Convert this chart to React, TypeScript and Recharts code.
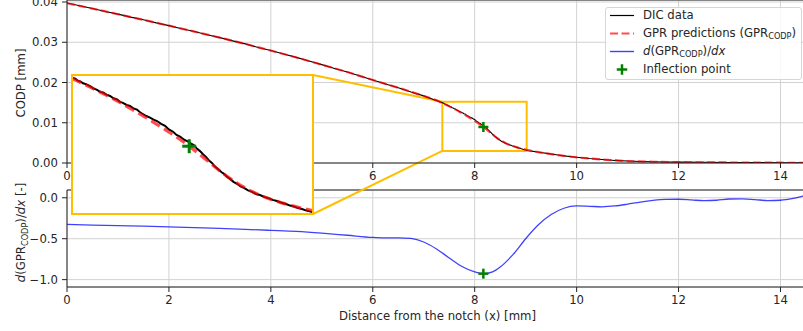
import React from 'react';
import {
  ComposedChart,
  Line,
  Scatter,
  XAxis,
  YAxis,
  CartesianGrid,
  ReferenceLine,
  ReferenceArea,
} from 'recharts';

// Measured crack opening (DIC), [distance from notch mm, CODP mm]
const DIC_PROFILE: [number, number][] = [
  [0, 0.03975], [0.25, 0.03905], [0.5, 0.03838], [0.75, 0.03764], [1, 0.03699],
  [1.25, 0.03624], [1.5, 0.03558], [1.75, 0.03482], [2, 0.03414], [2.25, 0.03336],
  [2.5, 0.03266], [2.75, 0.03188], [3, 0.03115], [3.25, 0.03034], [3.5, 0.0296],
  [3.75, 0.02872], [4, 0.02794], [4.25, 0.02706], [4.5, 0.02624], [4.75, 0.02532],
  [5, 0.02444], [5.25, 0.0235], [5.5, 0.02262], [5.75, 0.0216], [6, 0.02064],
  [6.25, 0.01964], [6.5, 0.01872], [6.75, 0.01766], [7, 0.01668], [7.15, 0.01598],
  [7.3, 0.0153], [7.335, 0.01512], [7.372, 0.01494], [7.39, 0.01486], [7.405, 0.0147],
  [7.425, 0.01462], [7.441, 0.01447], [7.465, 0.01438], [7.489, 0.01423], [7.512, 0.01403],
  [7.537, 0.0139], [7.558, 0.01372], [7.578, 0.01366], [7.602, 0.01347], [7.626, 0.01336],
  [7.65, 0.01316], [7.674, 0.01305], [7.695, 0.01284], [7.715, 0.01276], [7.74, 0.01257],
  [7.763, 0.01248], [7.788, 0.01226], [7.811, 0.01217], [7.83, 0.01195], [7.846, 0.01182],
  [7.875, 0.0116], [7.901, 0.01146], [7.925, 0.01128], [7.949, 0.01116], [7.977, 0.01092],
  [8.004, 0.01074], [8.03, 0.01042], [8.059, 0.01022], [8.083, 0.00994], [8.107, 0.0098],
  [8.135, 0.00952], [8.162, 0.00936], [8.183, 0.00918], [8.203, 0.00903], [8.224, 0.00872],
  [8.244, 0.00852], [8.265, 0.00824], [8.285, 0.008], [8.306, 0.0077], [8.326, 0.00748],
  [8.347, 0.00716], [8.368, 0.00695], [8.39, 0.00668], [8.409, 0.00652], [8.43, 0.00626],
  [8.45, 0.00608], [8.474, 0.00582], [8.498, 0.00565], [8.522, 0.00542], [8.546, 0.0053],
  [8.574, 0.00508], [8.601, 0.00494], [8.628, 0.00476], [8.656, 0.00467], [8.684, 0.0045],
  [8.711, 0.00441], [8.742, 0.00424], [8.773, 0.00414], [8.804, 0.00398], [8.835, 0.00388],
  [8.862, 0.00374], [8.889, 0.00366], [8.917, 0.00352], [8.944, 0.00344], [8.975, 0.0033],
  [9.004, 0.00321], [9.03, 0.00312], [9.06, 0.00303], [9.12, 0.00295], [9.2, 0.00281],
  [9.3, 0.00259], [9.45, 0.00232], [9.6, 0.00206], [9.8, 0.0017], [10, 0.00142],
  [10.25, 0.0011], [10.5, 0.00088], [10.75, 0.00064], [11, 0.0005], [11.25, 0.00039],
  [11.5, 0.0003], [11.75, 0.00026], [12, 0.00021], [12.5, 0.00018], [13, 0.00012],
  [13.5, 0.0001], [14, 0.00006], [14.54, 0.00005],
];

// GPR mean prediction of CODP [distance mm, CODP mm]
const GPR_PROFILE: [number, number][] = [
  [0, 0.0397], [0.5, 0.03835], [1, 0.03697], [1.5, 0.03556], [2, 0.03412],
  [2.5, 0.03265], [3, 0.03114], [3.5, 0.02958], [4, 0.02792], [4.5, 0.02622],
  [5, 0.02442], [5.5, 0.0226], [6, 0.02062], [6.5, 0.0187], [7, 0.01665],
  [7.3, 0.01528], [7.4, 0.01468], [7.5, 0.01407], [7.6, 0.01343], [7.7, 0.01275],
  [7.8, 0.01202], [7.9, 0.01125], [8, 0.01045], [8.1, 0.0096], [8.17, 0.00895],
  [8.2, 0.00865], [8.3, 0.00762], [8.4, 0.00658], [8.5, 0.0057], [8.6, 0.00498],
  [8.7, 0.00443], [8.8, 0.004], [8.9, 0.00365], [9, 0.00335], [9.1, 0.00308],
  [9.25, 0.0027], [9.5, 0.0022], [9.75, 0.00178], [10, 0.0014], [10.25, 0.00112],
  [10.5, 0.00086], [10.75, 0.00065], [11, 0.00049], [11.5, 0.00031], [12, 0.00022],
  [12.5, 0.00017], [13, 0.00013], [13.5, 0.0001], [14, 0.00007], [14.54, 0.00005],
];

// Derivative of the GPR prediction [distance mm, d/dx]
const GPR_SLOPE: [number, number][] = [
  [0, -0.326], [0.5, -0.333], [1, -0.34], [1.5, -0.347], [2, -0.355],
  [2.5, -0.364], [3, -0.374], [3.5, -0.386], [4, -0.398], [4.5, -0.411],
  [5, -0.432], [5.5, -0.458], [6, -0.484], [6.25, -0.489], [6.5, -0.489],
  [6.75, -0.497], [7, -0.54], [7.25, -0.625], [7.5, -0.735], [7.75, -0.84],
  [8, -0.905], [8.17, -0.927], [8.35, -0.905], [8.5, -0.846], [8.75, -0.695],
  [9, -0.5], [9.25, -0.33], [9.5, -0.205], [9.75, -0.128], [10, -0.1],
  [10.25, -0.104], [10.5, -0.11], [10.75, -0.1], [11, -0.078], [11.25, -0.052],
  [11.5, -0.032], [11.75, -0.02], [12, -0.018], [12.25, -0.026], [12.5, -0.036],
  [12.75, -0.03], [13, -0.015], [13.25, -0.013], [13.5, -0.022], [13.75, -0.034],
  [14, -0.03], [14.25, -0.008], [14.44, 0.02], [14.54, 0.035],
];

// Inflection point of the GPR curve: [x, CODP, slope]
const INFLECTION: [number, number, number] = [8.17, 0.00895, -0.927];

const X_TICKS = [0, 2, 4, 6, 8, 10, 12, 14];
const CODP_TICKS = [0, 0.01, 0.02, 0.03, 0.04];
const SLOPE_TICKS = [-1, -0.5, 0];

// Zoomed window shown in the inset
const ZOOM_X: [number, number] = [7.365, 9.02];
const ZOOM_CODP: [number, number] = [0.003, 0.0152];

const LEGEND_LABELS = ['DIC data', 'GPR predictions', 'slope', 'Inflection point'];

// ---- layout & style ----
const CHART_W = 808;
const AXIS_W = 67;
const X_MAX = 14.54;
const TOP_H = 190;
const TOP_XAXIS_H = 27;
const CODP_MAX = 0.0405;
const BOTTOM_TOP = 190;
const BOTTOM_H = 141;
const BOTTOM_XAXIS_H = 44;
const SLOPE_DOMAIN: [number, number] = [-1.09, 0.095];
const INSET = { left: 72, top: 75, width: 241, height: 139 };
const TITLE_X = 21;

const FONT = "'DejaVu Sans', sans-serif";
const FS = 11.7;
const TEXT = '#262626';
const SPINE = '#222';
const GRID = '#d2d2d2';
const YELLOW = '#ffbf00';
const ZERO = { top: 0, right: 0, bottom: 0, left: 0 };

const tickStyle = { fontFamily: FONT, fontSize: FS, fill: TEXT };

const rows = (pairs: [number, number][]) => pairs.map(([x, y]) => ({ x, y }));
const dicRows = rows(DIC_PROFILE);
const gprRows = rows(GPR_PROFILE);
const slopeRows = rows(GPR_SLOPE);
const inflCodp = [{ x: INFLECTION[0], y: INFLECTION[1] }];
const inflSlope = [{ x: INFLECTION[0], y: INFLECTION[2] }];

// Inset corners expressed in the data space of the upper panel
const topPlotH = TOP_H - TOP_XAXIS_H;
const pxToX = (px: number) => ((px - AXIS_W) / (CHART_W - AXIS_W)) * X_MAX;
const pyToCodp = (py: number) => CODP_MAX * (1 - py / topPlotH);
const insetRight = pxToX(INSET.left + INSET.width);
const insetTopCodp = pyToCodp(INSET.top);
const insetBottomCodp = pyToCodp(INSET.top + INSET.height);

const PlusMark = ({ cx, cy, size, width }: { cx: number; cy: number; size: number; width: number }) => (
  <g>
    <line x1={cx - size / 2} y1={cy} x2={cx + size / 2} y2={cy} stroke="green" strokeWidth={width} />
    <line x1={cx} y1={cy - size / 2} x2={cx} y2={cy + size / 2} stroke="green" strokeWidth={width} />
  </g>
);

const plusShape = (size: number, width: number) => (p: any) => (
  <PlusMark cx={p.cx} cy={p.cy} size={size} width={width} />
);

const CodpTitle = () => {
  const cy = topPlotH / 2 + 1.5;
  return (
    <text
      x={TITLE_X}
      y={cy}
      transform={`rotate(-90 ${TITLE_X} ${cy})`}
      textAnchor="middle"
      dy="0.36em"
      fontFamily={FONT}
      fontSize={FS}
      fill={TEXT}
    >
      CODP [mm]
    </text>
  );
};

const SlopeTitle = () => {
  const cy = 42.5;
  return (
    <text
      x={TITLE_X}
      y={cy}
      transform={`rotate(-90 ${TITLE_X} ${cy})`}
      textAnchor="middle"
      dy="0.36em"
      fontFamily={FONT}
      fontSize={FS}
      fill={TEXT}
      style={{ whiteSpace: 'pre' }}
    >
      <tspan fontStyle="italic">d</tspan>
      <tspan>(GPR</tspan>
      <tspan fontSize={8.2} dy={2.6}>CODP</tspan>
      <tspan dy={-2.6}>)/</tspan>
      <tspan fontStyle="italic">dx</tspan>
      <tspan> [-]</tspan>
    </text>
  );
};

const fmtSlope = (v: number) => v.toFixed(1).replace('-', '\u2212');

const Sub = ({ children }: { children: React.ReactNode }) => (
  <span style={{ fontSize: '0.7em', position: 'relative', top: 2.5 }}>{children}</span>
);

const legendSample = (i: number) => {
  if (i === 0) return <line x1={0} y1={8.5} x2={24} y2={8.5} stroke="#000" strokeWidth={1.2} />;
  if (i === 1)
    return (
      <line x1={0} y1={8.5} x2={24} y2={8.5} stroke="red" strokeOpacity={0.7} strokeWidth={2.2} strokeDasharray="8 3.5" />
    );
  if (i === 2) return <line x1={0} y1={8.5} x2={24} y2={8.5} stroke="blue" strokeOpacity={0.75} strokeWidth={1.4} />;
  return <PlusMark cx={12} cy={8.5} size={10.5} width={2.5} />;
};

const legendText = (i: number) => {
  if (i === 1)
    return (
      <>
        {LEGEND_LABELS[1]} (GPR<Sub>CODP</Sub>)
      </>
    );
  if (i === 2)
    return (
      <>
        <i>d</i>(GPR<Sub>CODP</Sub>)/<i>dx</i>
      </>
    );
  return <>{LEGEND_LABELS[i]}</>;
};

export default function App() {
  return (
    <div style={{ position: 'relative', width: 803, height: 331, overflow: 'hidden', background: '#fff' }}>
      <style>{`body{margin:0} .panel .recharts-surface{overflow:visible}`}</style>

      {/* lower panel: slope of the GPR prediction */}
      <div className="panel" style={{ position: 'absolute', left: 0, top: BOTTOM_TOP }}>
        <ComposedChart width={CHART_W} height={BOTTOM_H} margin={ZERO}>
          <CartesianGrid stroke={GRID} strokeWidth={1} />
          <XAxis
            type="number"
            dataKey="x"
            domain={[0, X_MAX]}
            ticks={X_TICKS}
            interval={0}
            allowDataOverflow
            height={BOTTOM_XAXIS_H}
            tickSize={5}
            tickMargin={4}
            tick={tickStyle}
            axisLine={{ stroke: SPINE }}
            tickLine={{ stroke: SPINE }}
            label={{
              value: 'Distance from the notch (x) [mm]',
              position: 'insideBottom',
              offset: 11,
              fill: TEXT,
              fontFamily: FONT,
              fontSize: FS,
            }}
          />
          <YAxis
            type="number"
            dataKey="y"
            domain={SLOPE_DOMAIN}
            ticks={SLOPE_TICKS}
            interval={0}
            allowDataOverflow
            width={AXIS_W}
            tickSize={5}
            tickMargin={4}
            tick={tickStyle}
            tickFormatter={fmtSlope}
            axisLine={{ stroke: SPINE }}
            tickLine={{ stroke: SPINE }}
            label={() => <SlopeTitle />}
          />
          <ReferenceLine y={SLOPE_DOMAIN[1]} stroke={SPINE} />
          <Line
            data={slopeRows}
            dataKey="y"
            type="monotone"
            stroke="blue"
            strokeOpacity={0.75}
            strokeWidth={1.3}
            dot={false}
            isAnimationActive={false}
          />
          <Scatter data={inflSlope} dataKey="y" shape={plusShape(10, 2.5)} isAnimationActive={false} />
        </ComposedChart>
      </div>

      {/* upper panel: CODP profile */}
      <div className="panel" style={{ position: 'absolute', left: 0, top: 0 }}>
        <ComposedChart width={CHART_W} height={TOP_H} margin={ZERO}>
          <CartesianGrid stroke={GRID} strokeWidth={1} />
          <XAxis
            type="number"
            dataKey="x"
            domain={[0, X_MAX]}
            ticks={X_TICKS}
            interval={0}
            allowDataOverflow
            height={TOP_XAXIS_H}
            tickSize={5}
            tickMargin={4}
            tick={tickStyle}
            axisLine={{ stroke: SPINE }}
            tickLine={{ stroke: SPINE }}
          />
          <YAxis
            type="number"
            dataKey="y"
            domain={[0, CODP_MAX]}
            ticks={CODP_TICKS}
            interval={0}
            allowDataOverflow
            width={AXIS_W}
            tickSize={5}
            tickMargin={4}
            tick={tickStyle}
            tickFormatter={(v: number) => v.toFixed(2)}
            axisLine={{ stroke: SPINE }}
            tickLine={{ stroke: SPINE }}
            label={() => <CodpTitle />}
          />
          <ReferenceLine y={CODP_MAX} stroke={SPINE} />
          <ReferenceArea
            x1={ZOOM_X[0]}
            x2={ZOOM_X[1]}
            y1={ZOOM_CODP[0]}
            y2={ZOOM_CODP[1]}
            fill="none"
            fillOpacity={0}
            stroke={YELLOW}
            strokeWidth={2}
          />
          <ReferenceLine
            segment={[
              { x: ZOOM_X[0], y: ZOOM_CODP[1] },
              { x: insetRight, y: insetTopCodp },
            ]}
            stroke={YELLOW}
            strokeWidth={2}
            ifOverflow="visible"
          />
          <ReferenceLine
            segment={[
              { x: ZOOM_X[0], y: ZOOM_CODP[0] },
              { x: insetRight, y: insetBottomCodp },
            ]}
            stroke={YELLOW}
            strokeWidth={2}
            ifOverflow="visible"
          />
          <Line
            data={dicRows}
            dataKey="y"
            type="linear"
            stroke="#000"
            strokeWidth={1.1}
            dot={false}
            isAnimationActive={false}
          />
          <Line
            data={gprRows}
            dataKey="y"
            type="monotone"
            stroke="red"
            strokeOpacity={0.7}
            strokeWidth={2.2}
            strokeDasharray="8 3.5"
            dot={false}
            isAnimationActive={false}
          />
          <Scatter data={inflCodp} dataKey="y" shape={plusShape(10, 2.5)} isAnimationActive={false} />
        </ComposedChart>
      </div>

      {/* zoomed inset */}
      <div
        style={{
          position: 'absolute',
          left: INSET.left,
          top: INSET.top,
          width: INSET.width,
          height: INSET.height,
          background: '#fff',
        }}
      >
        <ComposedChart width={INSET.width} height={INSET.height} margin={ZERO}>
          <XAxis hide type="number" dataKey="x" domain={ZOOM_X} allowDataOverflow />
          <YAxis hide type="number" dataKey="y" domain={ZOOM_CODP} allowDataOverflow />
          <Line
            data={dicRows}
            dataKey="y"
            type="linear"
            stroke="#000"
            strokeWidth={2}
            dot={false}
            isAnimationActive={false}
          />
          <Line
            data={gprRows}
            dataKey="y"
            type="monotone"
            stroke="red"
            strokeOpacity={0.7}
            strokeWidth={3.2}
            strokeDasharray="10 5"
            dot={false}
            isAnimationActive={false}
          />
          <Scatter data={inflCodp} dataKey="y" shape={plusShape(14, 3)} isAnimationActive={false} />
        </ComposedChart>
      </div>
      <div
        style={{
          position: 'absolute',
          left: INSET.left - 1,
          top: INSET.top - 1,
          width: INSET.width + 2,
          height: INSET.height + 2,
          border: `2px solid ${YELLOW}`,
          boxSizing: 'border-box',
        }}
      />

      {/* legend */}
      <div
        style={{
          position: 'absolute',
          left: 605,
          top: 7,
          width: 197,
          height: 73,
          border: '1px solid #d6d6d6',
          borderRadius: 3,
          background: 'rgba(255,255,255,0.85)',
          boxSizing: 'border-box',
          fontFamily: FONT,
          fontSize: FS,
          color: TEXT,
        }}
      >
        {LEGEND_LABELS.map((_, i) => (
          <div
            key={i}
            style={{
              position: 'absolute',
              left: 0,
              top: -0.8 + i * 17.9,
              height: 17,
              display: 'flex',
              alignItems: 'center',
              whiteSpace: 'nowrap',
            }}
          >
            <svg width={24} height={17} style={{ marginLeft: 4, display: 'block' }}>
              {legendSample(i)}
            </svg>
            <span style={{ marginLeft: 9, lineHeight: '17px' }}>{legendText(i)}</span>
          </div>
        ))}
      </div>
    </div>
  );
}
